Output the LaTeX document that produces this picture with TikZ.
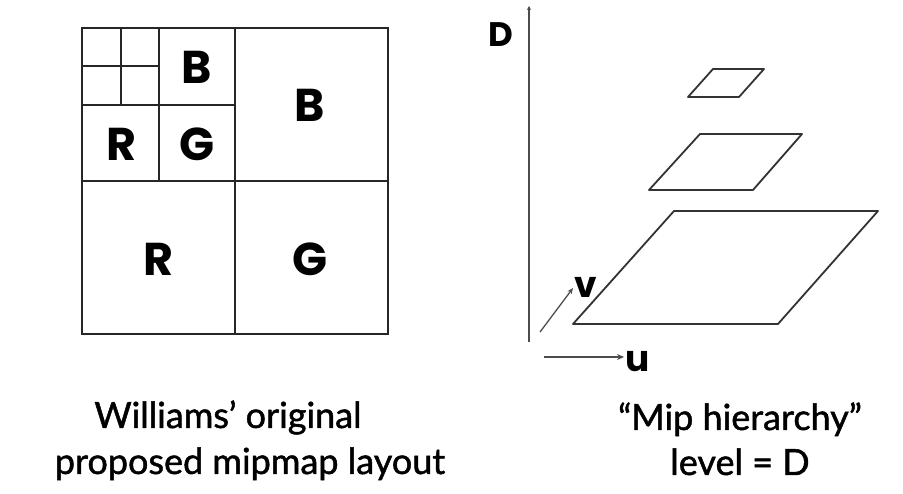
\documentclass[tikz,border=0pt]{standalone}
\usepackage{fontspec}
\setmainfont{Lato}
\newfontfamily\capfont{Lato}[FakeBold=1.3]
\newfontfamily\heavyfont{Poppins}
\usetikzlibrary{arrows.meta}
\begin{document}
\begin{tikzpicture}[x=1pt,y=-1pt,
  gridline/.style={line width=1.6pt,draw=black!85},
  plane/.style={line width=1.8pt,draw=black!80,line join=round},
  axis/.style={line width=1.3pt,draw=black!70},
  letter/.style={font=\heavyfont\bfseries\fontsize{46}{48}\selectfont,inner sep=0pt},
  axlabel/.style={font=\heavyfont\bfseries\fontsize{36}{38}\selectfont,inner sep=0pt},
  caption/.style={font=\capfont\fontsize{36}{40}\selectfont,inner sep=0pt,anchor=base}]
\useasboundingbox (0,0) rectangle (903,494);
% mipmap layout
\draw[gridline] (82,28) rectangle (388,334);
\draw[gridline] (235,28) -- (235,334);
\draw[gridline] (82,181) -- (388,181);
\draw[gridline] (159,28) -- (159,181);
\draw[gridline] (82,105) -- (235,105);
\draw[gridline] (121,28) -- (121,105);
\draw[gridline] (82,66) -- (159,66);
\node[letter] (b1) at (197,67) {B};
\node[letter] (b2) at (310,105) {B};
\node[letter] (r1) at (121,144) {R};
\node[letter] (g1) at (197,144) {G};
\node[letter] (r2) at (158,259) {R};
\node[letter] (g2) at (310,259) {G};
% axes
\coordinate (d0) at (529,342);
\coordinate (d1) at (529,6);
\draw[axis,-{Stealth[length=4pt,width=4pt]}] (d0) -- (d1);
\node[axlabel,font=\heavyfont\bfseries\fontsize{34}{36}\selectfont] (dl) at (501,35) {D};
\coordinate (u0) at (544,357);
\coordinate (u1) at (624,357);
\draw[axis,-{Stealth[length=7pt,width=6pt]}] (u0) -- (u1);
\node[axlabel,anchor=base] (ul) at (638,372) {u};
\coordinate (v0) at (540,332);
\coordinate (v1) at (573,288);
\draw[axis,-{Stealth[length=6pt,width=5pt]}] (v0) -- (v1);
\node[axlabel,anchor=base] (vl) at (586,298) {v};
% planes
\draw[plane] (688,97) -- (739,97) -- (764,69) -- (713,69) -- cycle;
\draw[plane] (649,190) -- (753,190) -- (802,134) -- (700,134) -- cycle;
\draw[plane] (573,324) -- (778,324) -- (878,211) -- (674,211) -- cycle;
% captions
\node[caption] (c1a) at (228,428) {Williams’ original};
\node[caption] (c1b) at (250,474) {proposed mipmap layout};
\node[caption] (c2a) at (740,430) {“Mip hierarchy”};
\node[caption] (c2b) at (740,475) {level = D};
\end{tikzpicture}
\end{document}
